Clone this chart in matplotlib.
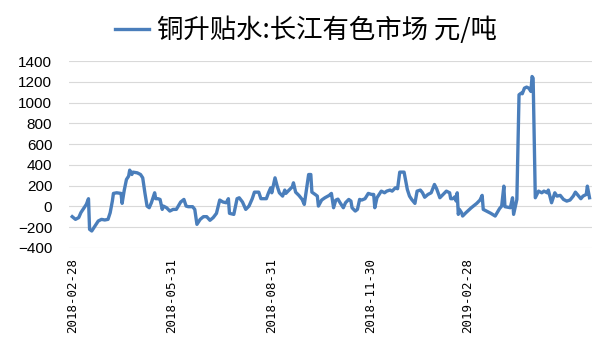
import matplotlib
matplotlib.use("Agg")
import matplotlib.pyplot as plt
import pandas as pd

# values (day offset from 2018-02-28, yuan/ton)
start_date = "2018-02-28"
day_offsets = [
    0, 3, 6, 8, 10, 13, 15, 16, 18, 21, 24, 27, 30, 33, 35, 37, 38, 41, 45, 46,
    48, 50, 52, 53, 55, 56, 60, 63, 65, 67, 69, 71, 73, 76, 77, 79, 81, 83, 84, 87,
    90, 93, 96, 100, 103, 105, 107, 111, 113, 115, 118, 121, 124, 127, 130, 133, 136, 139, 142, 144,
    145, 149, 152, 154, 157, 160, 163, 166, 168, 172, 174, 179, 181, 183, 184, 187, 189, 191, 194, 196,
    197, 199, 203, 204, 206, 209, 212, 214, 216, 218, 220, 221, 224, 226, 227, 230, 233, 237, 239, 241,
    243, 245, 247, 249, 250, 252, 255, 257, 258, 261, 263, 265, 267, 270, 273, 276, 278, 279, 281, 283,
    285, 288, 290, 293, 295, 298, 300, 302, 306, 309, 311, 313, 316, 318, 321, 323, 325, 328, 331, 334,
    336, 339, 342, 345, 348, 349, 351, 353, 354, 355, 356, 357, 359, 360, 363, 368, 373, 376, 378, 379,
    382, 386, 390, 394, 396, 398, 399, 404, 406, 407, 410, 412, 414, 415, 417, 419, 421, 423, 424, 425,
    427, 430, 433, 435, 438, 439, 442, 445, 447, 450, 453, 456, 459, 462, 464, 467, 469, 471, 474, 475,
    477,
]
premium = [
    -99, -125, -108, -60, -29, 19, 74, -221, -237, -189, -141, -125, -131, -125, -61, 51, 125, 131, 125, 29,
    157, 259, 291, 349, 307, 330, 323, 307, 275, 131, 3, -13, 35, 131, 74, 74, 67, -29, 3, -13,
    -45, -29, -29, 42, 67, 3, -3, -3, -29, -173, -125, -99, -99, -134, -108, -67, 61, 42, 35, 74,
    -67, -77, 74, 83, 42, -29, 3, 74, 137, 137, 74, 74, 131, 179, 131, 275, 195, 131, 99, 157,
    125, 147, 189, 227, 137, 106, 67, 19, 163, 307, 307, 137, 115, 99, 3, 61, 83, 106, 125, -13,
    60, 70, 35, 3, -13, 35, 67, 51, -13, -45, -29, 67, 61, 74, 125, 115, 115, -13, 83, 115,
    147, 131, 147, 157, 147, 179, 170, 330, 330, 163, 99, 67, 29, 147, 157, 131, 88, 115, 131, 211,
    170, 83, 115, 147, 131, 74, 74, 93, 51, 131, -77, -29, -61, -93, -61, -13, 29, 61, 106, -29,
    -45, -67, -93, -22, 3, 195, -3, -13, 83, -77, 67, 1075, 1091, 1085, 1139, 1149, 1139, 1107, 1251, 1235,
    83, 147, 131, 147, 131, 157, 35, 131, 99, 106, 67, 51, 61, 99, 137, 99, 74, 99, 115, 195,
    83,
]
tick_dates = ["2018-02-28", "2018-05-31", "2018-08-31", "2018-11-30", "2019-02-28"]
series_name = "铜升贴水:长江有色市场 元/吨"

dates = pd.Timestamp(start_date) + pd.to_timedelta(day_offsets, unit="D")

fig = plt.figure(figsize=(6.05, 3.41), dpi=100)
ax = fig.add_axes([0.114, 0.273, 0.864, 0.548])

ax.plot(dates, premium, color="#4a7ebb", lw=2.4, label=series_name)

ax.set_ylim(-400, 1400)
ax.set_yticks(range(-400, 1401, 200))
ax.set_xlim(pd.Timestamp(start_date) - pd.Timedelta(days=3),
            pd.Timestamp(start_date) + pd.Timedelta(days=479))
ticks = pd.to_datetime(tick_dates)
ax.set_xticks(ticks)
ax.set_xticklabels(tick_dates, rotation=90, family="DejaVu Sans Mono",
                   fontsize=9, va="top")

for lab in ax.get_yticklabels():
    lab.set_family("Liberation Sans")
    lab.set_fontsize(11)

ax.grid(axis="y", color="#d9d9d9", lw=0.8)
ax.set_axisbelow(True)
for s in ax.spines.values():
    s.set_visible(False)
ax.tick_params(axis="x", length=0, pad=7)
ax.tick_params(axis="y", length=0, pad=12)

fig.legend(loc="center", bbox_to_anchor=(0.506, 0.912), frameon=False,
           prop={"family": ["Noto Sans CJK SC", "DejaVu Sans"], "size": 19},
           handlelength=1.3, handletextpad=0.3)

fig.savefig("out.png", dpi=100)
